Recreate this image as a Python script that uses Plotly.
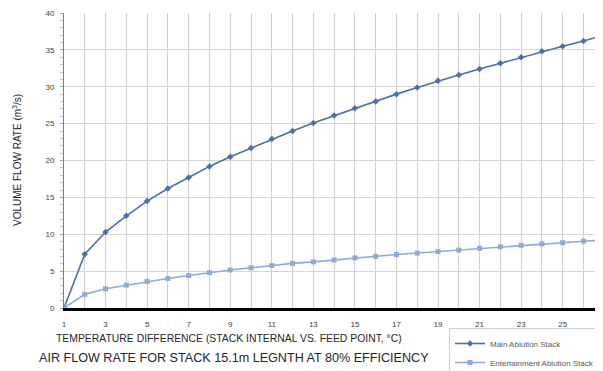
import plotly.graph_objects as go

temp_diff = list(range(1, 28))
main_stack = [0, 7.3, 10.3, 12.5, 14.5, 16.2, 17.7, 19.2, 20.5, 21.7, 22.9, 24.0, 25.1, 26.1,
              27.1, 28.0, 29.0, 29.9, 30.8, 31.6, 32.4, 33.2, 34.0, 34.8, 35.5, 36.2, 37.0]
ent_stack = [0, 1.85, 2.6, 3.1, 3.6, 4.0, 4.4, 4.8, 5.15, 5.45, 5.75, 6.05, 6.25, 6.5,
             6.8, 7.0, 7.25, 7.45, 7.65, 7.85, 8.1, 8.3, 8.5, 8.7, 8.85, 9.05, 9.2]
x_tick_labels = [str(v) if v % 2 == 1 else "" for v in temp_diff]

# page body has an 8px margin; compensate so the plot lands where the reference has it
fig = go.Figure()
fig.add_trace(go.Scatter(
    x=temp_diff, y=main_stack, name="Main Ablution Stack", mode="lines+markers",
    line=dict(color="#4a70ad", width=1.6),
    marker=dict(symbol="diamond", size=5, color="#4a70ad"),
))
fig.add_trace(go.Scatter(
    x=temp_diff, y=ent_stack, name="Entertainment Ablution Stack", mode="lines+markers",
    line=dict(color="#8eaadb", width=1.6),
    marker=dict(symbol="square", size=5, color="#8eaadb"),
))

PW = 539.0
PH = 295.0
fig.update_layout(
    width=595, height=363, autosize=False,
    margin=dict(l=56, r=0, t=5, b=63, autoexpand=False),
    paper_bgcolor="white", plot_bgcolor="white",
    font=dict(family="Liberation Sans, Arial, sans-serif", color="#404040"),
    xaxis=dict(
        range=[1, 26.94], tickmode="array", tickvals=temp_diff, ticktext=x_tick_labels,
        showgrid=True, gridcolor="#cfcfcf", gridwidth=1,
        showline=True, linecolor="black", linewidth=3,
        ticks="", ticklabelstandoff=6, zeroline=False, automargin=False,
        tickfont=dict(size=8, color="#404040", family="Liberation Sans, Arial, sans-serif"),
    ),
    yaxis=dict(
        range=[0, 40], dtick=5, showgrid=True, gridcolor="#d6d6d6", gridwidth=1,
        showline=True, linecolor="#808080", linewidth=1, zeroline=False, automargin=False,
        ticks="outside", ticklen=3, tickcolor="#a0a0a0",
        minor=dict(dtick=1, ticks="outside", ticklen=3, tickcolor="#c8c8c8", showgrid=False),
        ticklabelstandoff=4,
        tickfont=dict(size=8, color="#404040", family="Liberation Sans, Arial, sans-serif"),
    ),
    legend=dict(
        x=(449 - 64) / PW, y=-(328 - 308) / PH, xanchor="left", yanchor="top",
        bordercolor="#d0d0d0", borderwidth=1, bgcolor="rgba(255,255,255,0)",
        font=dict(size=8, color="#595959"), tracegroupgap=0,
    ),
    showlegend=True,
    annotations=[
        dict(text="TEMPERATURE DIFFERENCE (STACK INTERNAL VS. FEED POINT, °C)",
             xref="paper", yref="paper", x=(229 - 64) / PW, y=-(339 - 308) / PH,
             xanchor="center", yanchor="middle", showarrow=False,
             font=dict(size=10.4, color="#262626")),
        dict(text="AIR FLOW RATE FOR STACK 15.1m LEGNTH AT 80% EFFICIENCY",
             xref="paper", yref="paper", x=(233.5 - 64) / PW, y=-(358 - 308) / PH,
             xanchor="center", yanchor="middle", showarrow=False,
             font=dict(size=12.6, color="#262626")),
        dict(text="VOLUME FLOW RATE (m<sup>3</sup>/s)",
             xref="paper", yref="paper", x=-(64 - 17) / PW, y=(308 - 160) / PH,
             xanchor="center", yanchor="middle", showarrow=False, textangle=-90,
             font=dict(size=10, color="#262626")),
    ],
)

fig.write_html("out.html")
